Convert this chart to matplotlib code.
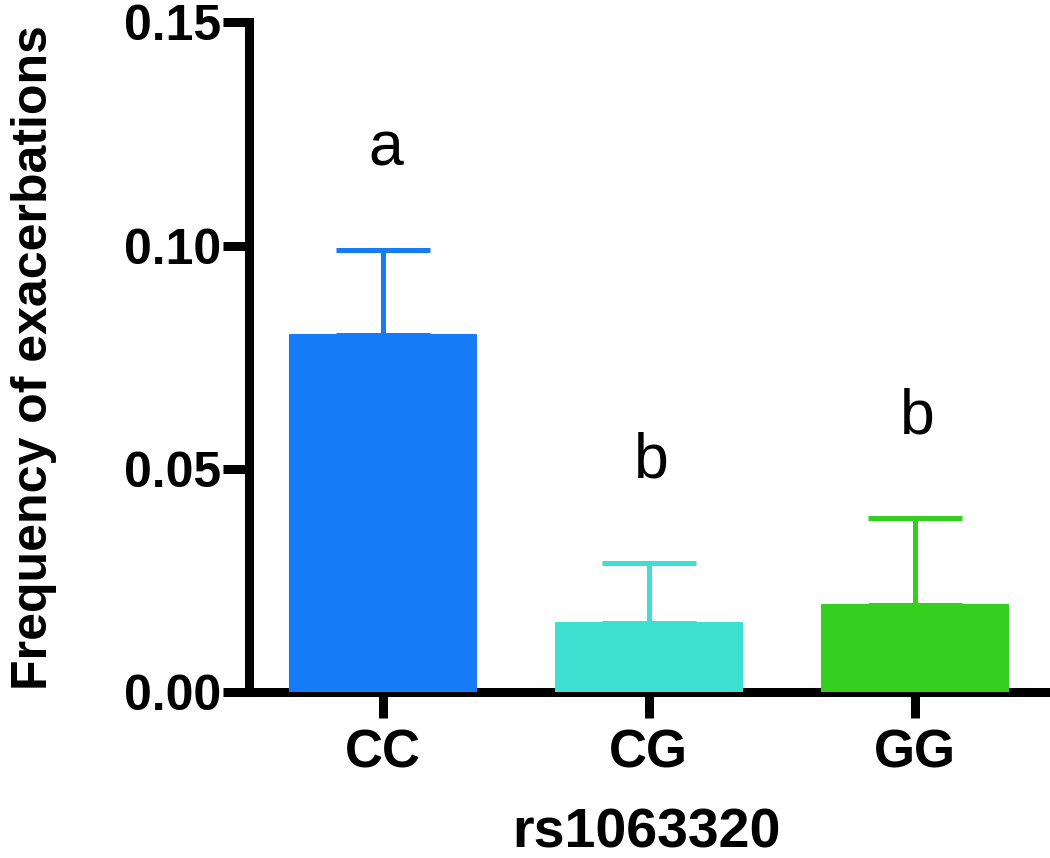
import matplotlib
matplotlib.use('Agg')
from matplotlib import pyplot as plt
from matplotlib import font_manager

#---------------------- DATA
genotypes = ['CC', 'CG', 'GG']
freq_mean = [0.080, 0.0155, 0.0195]
freq_sem = [0.019, 0.0135, 0.0195]
letters = ['a', 'b', 'b']
bar_colors = ['#157BF6', '#3DE0D0', '#35CF20']

#---------------------- FONTS
names = {f.name for f in font_manager.fontManager.ttflist}
main_font = 'Liberation Sans' if 'Liberation Sans' in names else 'DejaVu Sans'
narrow_font = 'Liberation Sans Narrow' if 'Liberation Sans Narrow' in names else main_font
plt.rcParams['font.family'] = main_font

#---------------------- PLOT
fig = plt.figure(figsize=(10.5, 8.58), dpi=100)
ax = fig.add_axes([0.237, 0.1935, 0.758, 0.7805])

x = list(range(len(genotypes)))
bars = ax.bar(x, freq_mean, width=0.70, color=bar_colors, edgecolor=bar_colors,
              linewidth=1.5, zorder=3)
for b in bars:
    b.set_joinstyle('round')

for xi, m, s, c in zip(x, freq_mean, freq_sem, bar_colors):
    ax.errorbar(xi, m, yerr=[[0], [s]], fmt='none', ecolor=c, elinewidth=3.6,
                capsize=34, capthick=3.6, zorder=2)

for xi, m, s, t in zip(x, freq_mean, freq_sem, letters):
    ax.text(xi + 0.01, m + s + 0.019, t, ha='center', va='baseline',
            fontsize=45, color='black')

ax.set_xlim(-0.504, 2.489)
ax.set_ylim(0, 0.15)
ax.set_yticks([0.00, 0.05, 0.10, 0.15])
ax.set_yticklabels(['0.00', '0.05', '0.10', '0.15'], fontsize=36, fontweight='bold')
ax.set_xticks(x)
ax.set_xticklabels(genotypes, fontsize=38, fontweight='bold', family=narrow_font)

for side in ['top', 'right']:
    ax.spines[side].set_visible(False)
for side in ['left', 'bottom']:
    ax.spines[side].set_linewidth(6.5)
    ax.spines[side].set_capstyle('projecting')

ax.tick_params(axis='both', direction='out', length=19, width=6.5, color='black')
ax.tick_params(axis='y', pad=1)
ax.tick_params(axis='x', pad=7)

ax.set_ylabel('Frequency of exacerbations', fontsize=36, fontweight='bold', labelpad=48)
ax.set_xlabel('rs1063320', fontsize=40, fontweight='bold', labelpad=21)

fig.savefig('out.png', dpi=100)
